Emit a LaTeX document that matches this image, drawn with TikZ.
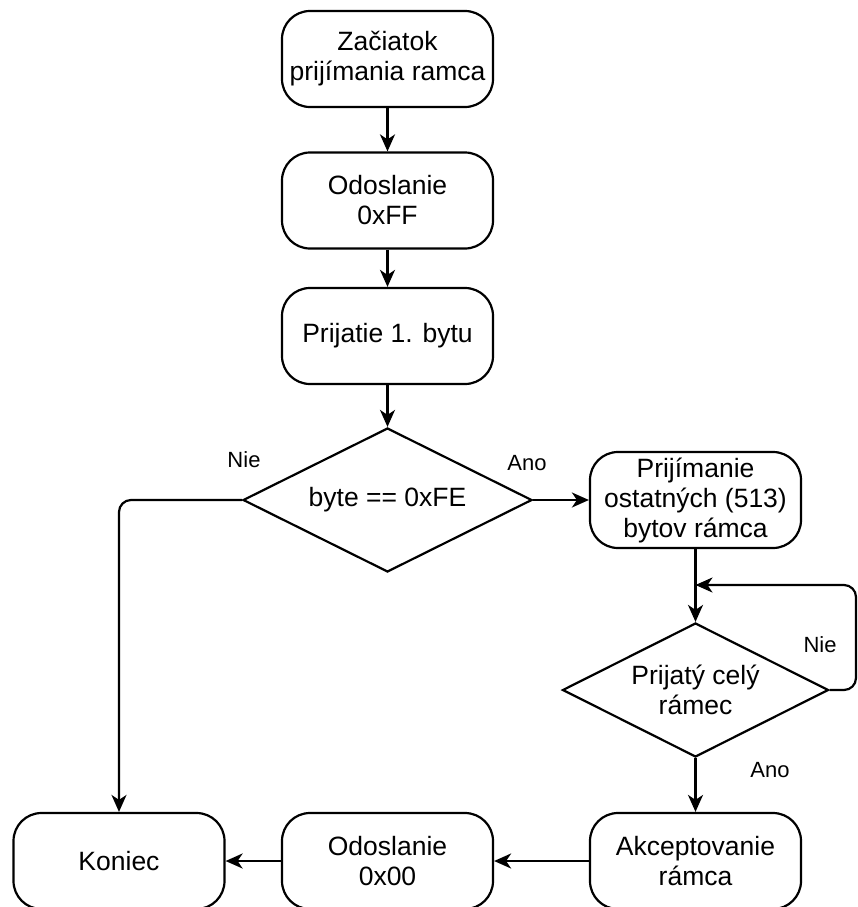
\documentclass[tikz,border=0pt]{standalone}
\usepackage{fontspec}
\setmainfont{Liberation Sans}
\usetikzlibrary{shapes.geometric,arrows.meta}
\begin{document}
\begin{tikzpicture}[x=1pt,y=-1pt,
  box/.style={draw,line width=2.2pt,rounded corners=28pt,minimum width=211pt,minimum height=96pt,inner sep=0pt,align=center,font=\fontsize{26.5}{30}\selectfont},
  dec/.style={draw,diamond,shape aspect=2,line width=2.2pt,inner sep=0pt,align=center,font=\fontsize{26.5}{30}\selectfont},
  arr/.style={line width=2.2pt,-{Stealth[length=17pt,width=15pt,inset=5pt]}},
  lbl/.style={font=\fontsize{22}{24}\selectfont,inner sep=0pt,anchor=base}]
\useasboundingbox (0,0) rectangle (858,907);
\node[box] (s1) at (387.5,59) {Začiatok\\prijímania ramca};
\node[box] (s2) at (387.5,200.5) {Odoslanie\\0xFF};
\node[box] (s3) at (387.5,336) {Prijatie 1. bytu};
\node[dec,minimum width=289pt,minimum height=144pt] (d1) at (387.5,500) {byte == 0xFE};
\node[box] (p) at (695.5,500) {Prijímanie\\ostatných (513)\\bytov rámca};
\node[dec,minimum width=266pt,minimum height=134pt] (d2) at (695.5,690) {Prijatý celý\\rámec};
\node[box] (a) at (695.5,861) {Akceptovanie\\rámca};
\node[box] (o) at (387.5,861) {Odoslanie\\0x00};
\node[box] (k) at (119,861) {Koniec};
\coordinate (lc) at (856,585);
\draw[arr] (s1) -- (s2);
\draw[arr] (s2) -- (s3);
\draw[arr] (s3) -- (d1.north);
\draw[arr] (d1.east) -- (p.west);
\draw[arr,rounded corners=12pt] (d1.west) -| (k.north);
\draw[arr] (p.south) -- (d2.north);
\draw[arr,rounded corners=12pt] (d2.east) -| (lc) -- (p.south |- lc);
\draw[arr] (d2.south) -- (a.north);
\draw[arr] (a.west) -- (o.east);
\draw[arr] (o.west) -- (k.east);
\node[lbl] (n1) at (244,467) {Nie};
\node[lbl] (a1) at (527,470) {Ano};
\node[lbl] (n2) at (820,652) {Nie};
\node[lbl] (a2) at (770,777) {Ano};
\end{tikzpicture}
\end{document}
